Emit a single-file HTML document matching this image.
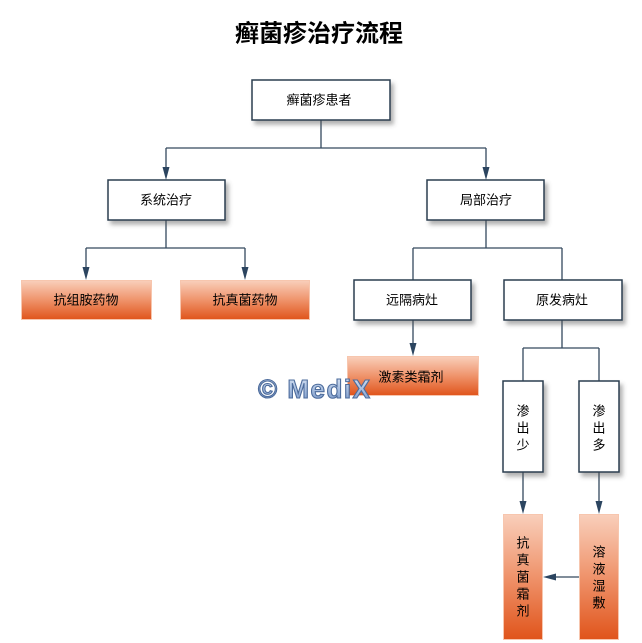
<!DOCTYPE html>
<html>
<head>
<meta charset="utf-8">
<style>
html,body{margin:0;padding:0;background:#fff;}
body{width:642px;height:643px;overflow:hidden;}
svg{display:block;}
text{font-family:"Liberation Sans","Noto Sans CJK SC","WenQuanYi Zen Hei",sans-serif;}
</style>
</head>
<body>
<svg width="642" height="643" viewBox="0 0 642 643" xmlns="http://www.w3.org/2000/svg">
<defs>
  <linearGradient id="og" x1="0" y1="0" x2="0" y2="1">
    <stop offset="0" stop-color="#f9cfbb"/>
    <stop offset="0.5" stop-color="#ef936b"/>
    <stop offset="1" stop-color="#e0541b"/>
  </linearGradient>
  <linearGradient id="wm" x1="0" y1="0" x2="0" y2="1">
    <stop offset="0" stop-color="#dfe8f6"/>
    <stop offset="0.5" stop-color="#a9bfe0"/>
    <stop offset="1" stop-color="#7393c6"/>
  </linearGradient>
  <filter id="sh" x="-20%" y="-20%" width="150%" height="160%">
    <feDropShadow dx="3" dy="4" stdDeviation="2" flood-color="#555" flood-opacity="0.45"/>
  </filter>
</defs>

<!-- Title -->
<text x="319" y="34" font-size="24" font-weight="bold" text-anchor="middle" dominant-baseline="central" fill="#000">癣菌疹治疗流程</text>

<!-- Connectors -->
<g stroke="#34495e" stroke-width="1.3" fill="none">
  <path d="M321 120V148M166 148H486M166 148V170M486 148V170"/>
  <path d="M166 220V248M86 248H245M86 248V270M245 248V270"/>
  <path d="M486 220V248M413 248H562M413 248V280M562 248V280"/>
  <path d="M413 320V346"/>
  <path d="M562 320V348M523 348H599M523 348V381M599 348V381"/>
  <path d="M523 472V504M599 472V504"/>
  <path d="M579 577H553"/>
</g>
<!-- Arrowheads -->
<g fill="#2c4560">
  <polygon points="162.5,167 169.5,167 166,180"/>
  <polygon points="482.5,167 489.5,167 486,180"/>
  <polygon points="82.5,267 89.5,267 86,280"/>
  <polygon points="241.5,267 248.5,267 245,280"/>
  <polygon points="409.5,343 416.5,343 413,356"/>
  <polygon points="519.5,501 526.5,501 523,514"/>
  <polygon points="595.5,501 602.5,501 599,514"/>
  <polygon points="556,573.5 556,580.5 543,577"/>
</g>

<!-- White boxes -->
<g fill="#fff" stroke="#2c3e50" stroke-width="1.5" filter="url(#sh)">
  <rect x="252" y="80" width="138" height="40"/>
  <rect x="108" y="180" width="117" height="40"/>
  <rect x="427" y="180" width="117" height="40"/>
  <rect x="354" y="280" width="117" height="40"/>
  <rect x="504" y="280" width="118" height="40"/>
  <rect x="503" y="381" width="40" height="91"/>
  <rect x="579" y="381" width="40" height="91"/>
</g>

<!-- Orange boxes -->
<g fill="url(#og)" stroke="#f7c6ae" stroke-width="1">
  <rect x="21.5" y="280.5" width="130" height="39"/>
  <rect x="180.5" y="280.5" width="129" height="39"/>
  <rect x="347.5" y="356.5" width="131" height="39"/>
  <rect x="503.5" y="514.5" width="39" height="125"/>
  <rect x="579.5" y="514.5" width="39" height="125"/>
</g>

<!-- Labels -->
<g font-size="13" fill="#000" text-anchor="middle" dominant-baseline="central">
  <text x="319" y="100">癣菌疹患者</text>
  <text x="166" y="200">系统治疗</text>
  <text x="486" y="200">局部治疗</text>
  <text x="86" y="300">抗组胺药物</text>
  <text x="245" y="300">抗真菌药物</text>
  <text x="412" y="300">远隔病灶</text>
  <text x="562" y="300">原发病灶</text>
  <text x="411" y="377">激素类霜剂</text>
  <text x="523" y="411">渗</text>
  <text x="523" y="428">出</text>
  <text x="523" y="445">少</text>
  <text x="599" y="411">渗</text>
  <text x="599" y="428">出</text>
  <text x="599" y="445">多</text>
  <text x="523" y="543">抗</text>
  <text x="523" y="560">真</text>
  <text x="523" y="577">菌</text>
  <text x="523" y="594">霜</text>
  <text x="523" y="611">剂</text>
  <text x="599" y="552">溶</text>
  <text x="599" y="569">液</text>
  <text x="599" y="586">湿</text>
  <text x="599" y="603">敷</text>
</g>

<!-- Watermark -->
<text x="258" y="398" font-size="26" font-weight="bold" letter-spacing="1.5" fill="url(#wm)" stroke="#4d6c9c" stroke-width="1.1">© MediX</text>
</svg>
</body>
</html>
